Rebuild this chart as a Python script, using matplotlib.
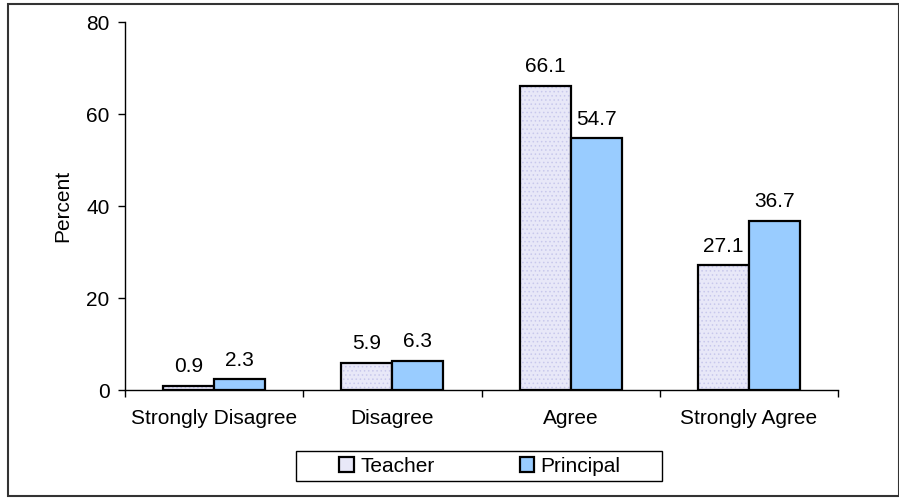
import matplotlib
matplotlib.use("Agg")
import matplotlib.pyplot as plt
from matplotlib.patches import Rectangle, Patch
import numpy as np

plt.rcParams['font.family'] = ['Liberation Sans', 'DejaVu Sans']
plt.rcParams['hatch.linewidth'] = 0.6

categories = ["Strongly Disagree", "Disagree", "Agree", "Strongly Agree"]
teacher = [0.9, 5.9, 66.1, 27.1]
principal = [2.3, 6.3, 54.7, 36.7]
yticks = [0, 20, 40, 60, 80]

FS = 15
W, H = 899, 498
fig = plt.figure(figsize=(W / 100, H / 100), dpi=100)

# outer border
fig.add_artist(Rectangle((8 / W, 2 / H), (W - 8) / W, (H - 6) / H, transform=fig.transFigure,
                         fill=False, edgecolor='#333333', linewidth=1.5))

ax = fig.add_axes([125 / W, (H - 390) / H, (838 - 125) / W, (390 - 22) / H])

x = np.arange(len(categories))
w = 1 / 3.5
tcol = '#e8e8f8'
pcol = '#99ccff'

# teacher bars with fine dotted texture
ax.bar(x - w / 2, teacher, w, color=tcol, edgecolor='#c8c8ec', hatch='....', linewidth=0, zorder=2)
ax.bar(x - w / 2, teacher, w, fill=False, edgecolor='black', linewidth=1.6, zorder=3)
ax.bar(x + w / 2, principal, w, color=pcol, edgecolor='black', linewidth=1.6, zorder=3)

for xi, v in zip(x - w / 2, teacher):
    ax.annotate(f"{v}", (xi, v), xytext=(0, 7), textcoords='offset points',
                ha='center', va='bottom', fontsize=FS)
for xi, v in zip(x + w / 2, principal):
    ax.annotate(f"{v}", (xi, v), xytext=(0, 7), textcoords='offset points',
                ha='center', va='bottom', fontsize=FS)

ax.set_xlim(-0.5, len(categories) - 0.5)
ax.set_ylim(0, 80)
ax.set_yticks(yticks)
ax.set_yticklabels([str(t) for t in yticks], fontsize=FS)
ax.set_xticks(np.arange(len(categories) + 1) - 0.5, minor=False)
ax.set_xticklabels([])
ax.set_xticks(x, minor=True)
ax.set_xticklabels(categories, minor=True, fontsize=FS)
ax.tick_params(axis='x', which='minor', length=0, pad=14)
ax.tick_params(axis='x', which='major', length=5, direction='out', width=1)
ax.tick_params(axis='y', length=5, direction='out', width=1, pad=6)
for s in ['top', 'right']:
    ax.spines[s].set_visible(False)
for s in ['left', 'bottom']:
    ax.spines[s].set_linewidth(1)
ax.set_ylabel("Percent", fontsize=FS, labelpad=10)

handles = [Patch(facecolor=tcol, edgecolor='black', linewidth=1.6, label='Teacher'),
           Patch(facecolor=pcol, edgecolor='black', linewidth=1.6, label='Principal')]
leg = fig.legend(handles=handles, loc='center', bbox_to_anchor=(480 / W, 1 - 466 / H),
                 ncol=2, fontsize=FS, frameon=False, handlelength=0.7,
                 handleheight=0.7, handletextpad=0.3, columnspacing=4.1, borderpad=0.3,
                 borderaxespad=0)
fig.add_artist(Rectangle((296 / W, 1 - 481 / H), (662 - 296) / W, 30 / H,
                         transform=fig.transFigure, fill=False, edgecolor='black', linewidth=1))

fig.savefig("out.png", dpi=100)
